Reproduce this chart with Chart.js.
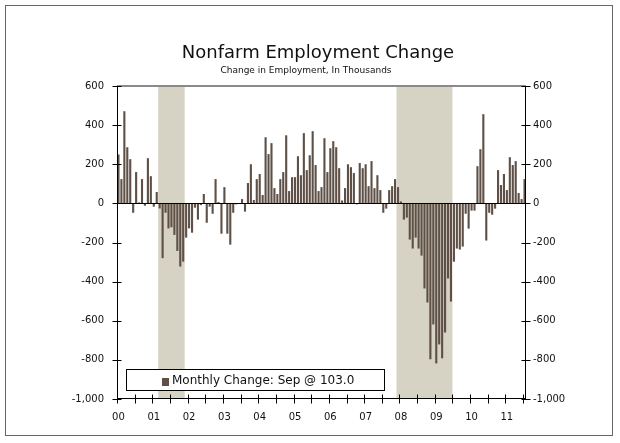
<!DOCTYPE html>
<html>
<head>
<meta charset="utf-8">
<script src="https://cdn.jsdelivr.net/npm/chart.js@4/dist/chart.umd.min.js"></script>
<style>
    body { margin: 0; background: #fff; font-family: 'DejaVu Sans', sans-serif; }
    #wrap { position: relative; width: 620px; height: 443px; }
    #frame { position: absolute; left: 5px; top: 5px; width: 608px; height: 431px; border: 1px solid #666; box-sizing: border-box; }
    .title { position: absolute; white-space: nowrap; color: #111; }
    #t1 { left: 0; width: 636px; top: 43px; font-size: 18px; line-height: 18px; text-align: center; }
    #t2 { left: 0; width: 612px; top: 66px; font-size: 9px; line-height: 9px; text-align: center; }
    #legend { position: absolute; left: 126px; top: 369px; width: 259px; height: 22px; border: 1px solid #000;
              background: #fff; box-sizing: border-box; font-size: 12px; line-height: 20px; color: #111; }
    #legend .sw { position: absolute; left: 35px; top: 8px; width: 7px; height: 8px; background: #5e5046; }
    #legend .tx { position: absolute; left: 45px; top: 0; }
</style>
</head>
<body>
<div id="wrap">
    <canvas id="c" width="620" height="443"></canvas>
    <div id="frame"></div>
    <div class="title" id="t1">Nonfarm Employment Change</div>
    <div class="title" id="t2">Change in Employment, In Thousands</div>
    <div id="legend"><span class="sw"></span><span class="tx">Monthly Change: Sep @ 103.0</span></div>
</div>
<script>
// --- Data: monthly change in nonfarm payrolls, thousands (Jan 2000 - Sep 2011) ---
const yearLabels = ['00', '01', '02', '03', '04', '05', '06', '07', '08', '09', '10', '11'];

const y2000 = [250, 124, 471, 287, 226, -48, 160, 5, 124, -12, 231, 139];
const y2001 = [-17, 58, -26, -280, -48, -128, -122, -161, -243, -323, -298, -175];
const y2002 = [-128, -150, -22, -83, -9, 48, -99, -17, -53, 124, 7, -155];
const y2003 = [83, -155, -211, -48, -5, -2, 22, -42, 104, 200, 17, 124];
const y2004 = [150, 43, 338, 252, 308, 78, 48, 124, 160, 348, 63, 134];
const y2005 = [134, 241, 144, 359, 170, 246, 369, 196, 63, 83, 333, 160];
const y2006 = [282, 318, 287, 180, 15, 78, 200, 185, 155, -5, 206, 180];
const y2007 = [200, 88, 216, 78, 144, 68, -48, -27, 68, 88, 124, 83];
const y2008 = [10, -83, -73, -185, -231, -175, -231, -267, -435, -507, -797, -619];
const y2009 = [-818, -721, -792, -660, -384, -502, -298, -231, -236, -221, -53, -129];
const y2010 = [-37, -37, 190, 277, 456, -190, -48, -58, -27, 170, 94, 150];
const y2011 = [68, 236, 196, 216, 53, 22, 124, 57, 103];

const jobChange = [].concat(y2000, y2001, y2002, y2003, y2004, y2005,
    y2006, y2007, y2008, y2009, y2010, y2011);

// month labels like "2000-01"
const months = jobChange.map((v, i) => {
    const yr = 2000 + Math.floor(i / 12);
    const mo = (i % 12) + 1;
    return yr + '-' + String(mo).padStart(2, '0');
});

// the printed axis stops at July 2011
const axisStart = '2000-01';
const axisEnd = '2011-07';

// recessions: first and last month shaded
const recessions = [['2001-03', '2001-11'], ['2007-12', '2009-06']];

const yTicks = [600, 400, 200, 0, -200, -400, -600, -800, -1000];

const BAR = '#5e5046';
const SHADE = '#d6d2c4';

function fmt(v) {
    return Number(v).toLocaleString('en-US');
}

// --- shading, axes lines and crossing ticks ---
const framePlugin = {
    id: 'framePlugin',
    beforeDatasetsDraw(chart) {
        const { ctx, chartArea: a, scales: { x } } = chart;
        const half = (x.getPixelForValue(1) - x.getPixelForValue(0)) / 2;
        ctx.save();
        ctx.fillStyle = SHADE;
        recessions.forEach(([s, e]) => {
            const x0 = x.getPixelForValue(months.indexOf(s)) - half;
            const x1 = x.getPixelForValue(months.indexOf(e)) + half;
            ctx.fillRect(x0, a.top, x1 - x0, a.bottom - a.top);
        });
        ctx.restore();
    },
    afterDatasetsDraw(chart) {
        const { ctx, chartArea: a, scales: { x, y } } = chart;
        const half = (x.getPixelForValue(1) - x.getPixelForValue(0)) / 2;
        ctx.save();

        // top border at 600
        ctx.strokeStyle = '#8a8a8a';
        ctx.lineWidth = 2;
        ctx.beginPath();
        ctx.moveTo(a.left, y.getPixelForValue(600));
        ctx.lineTo(a.right, y.getPixelForValue(600));
        ctx.stroke();

        ctx.strokeStyle = '#000';
        ctx.lineWidth = 1;
        ctx.beginPath();
        // zero line
        const y0 = Math.round(y.getPixelForValue(0)) + 0.5;
        ctx.moveTo(a.left, y0);
        ctx.lineTo(a.right, y0);
        // left / right / bottom axes
        const xl = Math.round(a.left) + 0.5;
        const xr = Math.round(a.right) - 0.5;
        const yb = Math.round(a.bottom) - 0.5;
        ctx.moveTo(xl, a.top);
        ctx.lineTo(xl, yb);
        ctx.moveTo(xr, a.top);
        ctx.lineTo(xr, yb);
        ctx.moveTo(a.left, yb);
        ctx.lineTo(a.right, yb);
        // y ticks crossing both axes
        yTicks.forEach((t) => {
            const py = Math.round(y.getPixelForValue(t)) + 0.5;
            ctx.moveTo(xl - 5, py);
            ctx.lineTo(xl + 4, py);
            ctx.moveTo(xr - 4, py);
            ctx.lineTo(xr + 5, py);
        });
        // x ticks every six months, at month boundaries
        const last = months.indexOf(axisEnd);
        for (let i = 0; i <= last; i += 6) {
            const px = Math.round(x.getPixelForValue(i) - half) + 0.5;
            ctx.moveTo(px, yb - 4);
            ctx.lineTo(px, yb + 5);
        }
        ctx.stroke();
        ctx.restore();
    },
};

const tickFont = { family: "'DejaVu Sans', sans-serif", size: 10 };

const yAxis = {
    min: -1000,
    max: 600,
    grid: { display: false, drawTicks: false },
    border: { display: false },
    ticks: { stepSize: 200, color: '#111', font: tickFont, callback: fmt },
};

const chart = new Chart(document.getElementById('c').getContext('2d'), {
    type: 'bar',
    data: {
        labels: months,
        datasets: [{
            data: jobChange,
            backgroundColor: BAR,
            barPercentage: 0.72,
            categoryPercentage: 1,
        }],
    },
    options: {
        responsive: false,
        animation: false,
        layout: { padding: { top: 86, right: 0, bottom: 0, left: 0 } },
        plugins: {
            legend: { display: false },
            tooltip: { enabled: false },
        },
        scales: {
            x: {
                min: axisStart,
                max: axisEnd,
                grid: { display: false, drawTicks: false },
                border: { display: false },
                ticks: {
                    autoSkip: false,
                    maxRotation: 0,
                    minRotation: 0,
                    padding: 12,
                    color: '#111',
                    font: tickFont,
                    callback: (v, i) => (i % 12 === 0 ? yearLabels[i / 12] : ''),
                },
                afterFit: (s) => { s.height = 44; },
            },
            y: {
                ...yAxis,
                position: 'left',
                ticks: { ...yAxis.ticks, padding: 13 },
                afterFit: (s) => { s.width = 117; },
            },
            y2: {
                ...yAxis,
                position: 'right',
                ticks: { ...yAxis.ticks, padding: 7 },
                afterFit: (s) => { s.width = 94; },
            },
        },
    },
    plugins: [framePlugin],
});
</script>
</body>
</html>
